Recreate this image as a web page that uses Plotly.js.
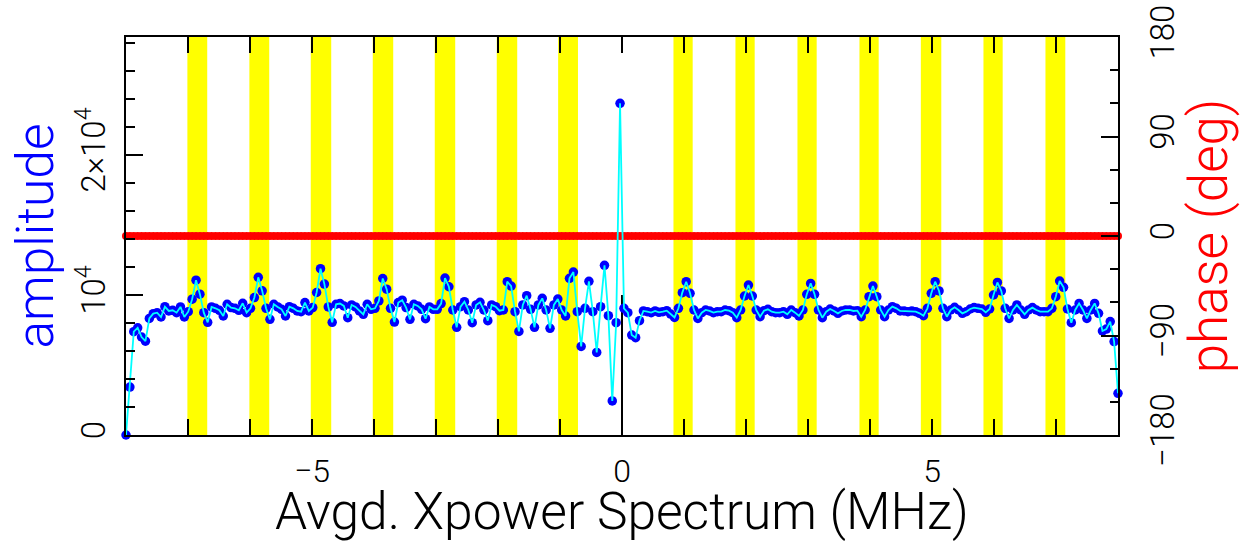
<!DOCTYPE html>
<html>
<head>
<meta charset="utf-8">
<script src="https://cdn.plot.ly/plotly-3.0.1.min.js"></script>
<style>
html,body{margin:0;padding:0;background:#fff;}
#chart{width:1240px;height:542px;}
</style>
</head>
<body>
<div id="chart"></div>
<script>
// ---- data (256 channels, -8 .. 8 MHz) ----
const amplitude = [
  0, 3420, 7380, 7660, 7000, 6700, 8330, 8670, 8740, 8430,
  9170, 8860, 8910, 8740, 9150, 8430, 8810, 9700, 11060, 10060,
  8740, 8050, 9150, 9050, 8910, 8500, 9340, 9100, 9050, 8910,
  9410, 8740, 9050, 9820, 11260, 10300, 9050, 8260, 9340, 9150,
  8980, 8500, 9170, 9050, 8860, 8810, 9460, 8860, 9100, 10180,
  11880, 10780, 9150, 8050, 9340, 9390, 9220, 8380, 9290, 9150,
  8860, 8620, 9340, 8980, 9050, 9580, 11180, 10420, 9050, 8070,
  9460, 9630, 9100, 8260, 9340, 9220, 8980, 8310, 9150, 8980,
  8980, 9390, 11210, 10590, 8930, 7690, 9170, 9520, 8930, 8020,
  9290, 9480, 8930, 8170, 9290, 9170, 8880, 8930, 10950, 10640,
  8810, 7400, 9290, 9950, 8980, 7690, 9290, 9760, 8930, 7620,
  9290, 9710, 8930, 8500, 11190, 11640, 8810, 6330, 9050, 10980,
  8810, 5900, 9170, 12120, 8520, 2430, 8020, 23690, 9050, 8740,
  7140, 6950, 8170, 8860, 8810, 8740, 8860, 8760, 8810, 8880,
  8640, 8400, 9050, 10170, 10950, 10120, 8930, 8330, 8740, 8930,
  8860, 8740, 8810, 8810, 8930, 8880, 8740, 8380, 8930, 9930,
  10710, 9930, 8930, 8450, 8880, 8980, 8810, 8740, 8740, 8810,
  8620, 8930, 8740, 8500, 8930, 10050, 10830, 10050, 8930, 8380,
  8810, 9000, 8860, 8690, 8860, 8930, 8930, 8860, 8880, 8450,
  8930, 9880, 10640, 9880, 8930, 8450, 8930, 9170, 9050, 8860,
  8860, 8810, 8860, 8810, 8690, 8520, 9050, 10120, 10950, 10290,
  9050, 8450, 8930, 9120, 8930, 8690, 8810, 9000, 9100, 9050,
  9000, 8760, 9000, 10000, 10900, 10290, 9050, 8330, 8930, 9290,
  8930, 8620, 8930, 9100, 8930, 8810, 8810, 8810, 9050, 9880,
  11000, 10550, 9000, 8020, 8930, 9400, 8930, 8330, 8930, 9400,
  8690, 7430, 7570, 8100, 6670, 2980
];
const phase = [
  0,0,0,0,0,0,0,0,0,0,0,0,0,0,0,0,0,0,0,0,0,0,0,0,0,0,0,0,0,0,0,0,
  0,0,0,0,0,0,0,0,0,0,0,0,0,0,0,0,0,0,0,0,0,0,0,0,0,0,0,0,0,0,0,0,
  0,0,0,0,0,0,0,0,0,0,0,0,0,0,0,0,0,0,0,0,0,0,0,0,0,0,0,0,0,0,0,0,
  0,0,0,0,0,0,0,0,0,0,0,0,0,0,0,0,0,0,0,0,0,0,0,0,0,0,0,0,0,0,0,0,
  0,0,0,0,0,0,0,0,0,0,0,0,0,0,0,0,0,0,0,0,0,0,0,0,0,0,0,0,0,0,0,0,
  0,0,0,0,0,0,0,0,0,0,0,0,0,0,0,0,0,0,0,0,0,0,0,0,0,0,0,0,0,0,0,0,
  0,0,0,0,0,0,0,0,0,0,0,0,0,0,0,0,0,0,0,0,0,0,0,0,0,0,0,0,0,0,0,0,
  0,0,0,0,0,0,0,0,0,0,0,0,0,0,0,0,0,0,0,0,0,0,0,0,0,0,0,0,0,0,0,0
];
const freqStart = -8;          // MHz, first channel
const freqStep = 16 / 255;     // MHz per channel
// flagged (yellow) frequency bands, MHz
const bandLo = [-7.01, -6.01, -5.02, -4.02, -3.02, -2.02, -1.03, 0.83, 1.83, 2.83, 3.83, 4.82, 5.83, 6.83];
const bandHi = [-6.69, -5.69, -4.69, -3.69, -2.69, -1.69, -0.71, 1.14, 2.14, 3.14, 4.14, 5.15, 6.14, 7.15];
// axis ticks
const freqTicks = [-5, 0, 5];
const ampTickVals = [0, 10000, 20000];
const ampTickText = ['0', '10<sup>4</sup>', '2×10<sup>4</sup>'];
const phaseTickVals = [-180, -90, 0, 90, 180];

const FONT = 'Roboto, "Liberation Sans", Arial, sans-serif';

const traces = [
  { // phase (drawn first, underneath)
    type: 'scatter', mode: 'markers', x0: freqStart, dx: freqStep, y: phase,
    yaxis: 'y', marker: {color: '#ff0000', size: 8}, cliponaxis: false, hoverinfo: 'skip'
  },
  { // amplitude points
    type: 'scatter', mode: 'markers', x0: freqStart, dx: freqStep, y: amplitude,
    yaxis: 'y2', marker: {color: '#0000ff', size: 9.5}, cliponaxis: false, hoverinfo: 'skip'
  },
  { // amplitude connecting line (on top of the points)
    type: 'scatter', mode: 'lines', x0: freqStart, dx: freqStep, y: amplitude,
    yaxis: 'y2', line: {color: '#00ffff', width: 1.8}, cliponaxis: false, hoverinfo: 'skip'
  }
];

const shapes = bandLo.map((lo, i) => ({
  type: 'rect', xref: 'x', yref: 'paper', x0: lo, x1: bandHi[i], y0: 0, y1: 1,
  fillcolor: '#ffff00', line: {width: 0}, layer: 'below'
}));
shapes.push({
  type: 'line', xref: 'x', yref: 'y2', x0: 0, x1: 0, y0: ampTickVals[0], y1: ampTickVals[1],
  line: {color: 'black', width: 2}, layer: 'below'
});

const tickStyle = {ticks: 'inside', tickcolor: 'black', tickwidth: 2};

const layout = {
  width: 1240, height: 542,
  margin: {l: 126, r: 122, t: 37, b: 107, pad: 0},
  paper_bgcolor: 'white', plot_bgcolor: 'rgba(0,0,0,0)',
  showlegend: false,
  font: {family: FONT, color: 'black', weight: 300},
  shapes: shapes,
  xaxis: Object.assign({}, tickStyle, {
    range: [-8, 8], tickmode: 'array', tickvals: freqTicks, ticklen: 16,
    showline: true, linewidth: 2, linecolor: 'black', mirror: 'allticks',
    showgrid: false, zeroline: false, automargin: false,
    tickfont: {size: 32, family: FONT, weight: 300}, ticklabelstandoff: 7,
    minor: {dtick: 1, tick0: 0, ticks: 'inside', ticklen: 9, tickwidth: 2, tickcolor: 'black', showgrid: false},
    title: {text: 'Avgd. Xpower Spectrum (MHz)', font: {size: 51.5, family: FONT, weight: 300, color: 'black'}, standoff: 19}
  }),
  yaxis: Object.assign({}, tickStyle, {  // phase, right side
    range: [-180, 180], side: 'right', tickmode: 'array', tickvals: phaseTickVals, ticklen: 17,
    tickangle: -90, showline: true, linewidth: 2, linecolor: 'black',
    showgrid: false, zeroline: false, automargin: false,
    tickfont: {size: 33, family: FONT, weight: 300}, ticklabelstandoff: 14,
    minor: {dtick: 30, tick0: 0, ticks: 'inside', ticklen: 8, tickwidth: 2, tickcolor: 'black', showgrid: false},
    title: {text: 'phase (deg)', font: {size: 53, family: FONT, weight: 300, color: '#ff0000'}, standoff: 3}
  }),
  yaxis2: Object.assign({}, tickStyle, {  // amplitude, left side
    overlaying: 'y', side: 'left', range: [0, 28430], tickmode: 'array',
    tickvals: ampTickVals, ticktext: ampTickText, ticklen: 17, tickangle: -90,
    showline: true, linewidth: 2, linecolor: 'black',
    showgrid: false, zeroline: false, automargin: false,
    tickfont: {size: 33, family: FONT, weight: 300}, ticklabelstandoff: 6,
    minor: {dtick: 2000, tick0: 0, ticks: 'inside', ticklen: 9, tickwidth: 2, tickcolor: 'black', showgrid: false},
    title: {text: 'amplitude', font: {size: 51.5, family: FONT, weight: 300, color: '#0000ff'}, standoff: 0}
  })
};

Plotly.newPlot('chart', traces, layout, {staticPlot: true, displayModeBar: false});
</script>
</body>
</html>
